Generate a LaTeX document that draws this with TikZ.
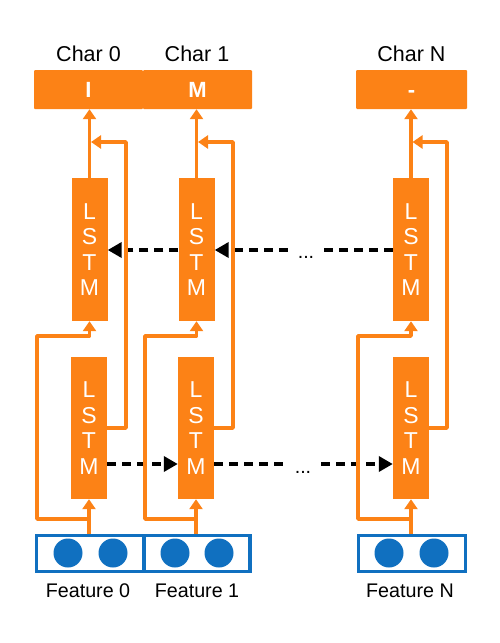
\documentclass[tikz,border=0pt]{standalone}
\usepackage{fontspec}
\setmainfont{Liberation Sans}
\usetikzlibrary{arrows.meta}
\definecolor{org}{RGB}{252,130,22}
\definecolor{blu}{RGB}{16,112,192}
\begin{document}
\begin{tikzpicture}[x=1pt,y=-1pt,
 lstm/.style={fill=org, draw=none, minimum width=36pt, minimum height=143pt, inner sep=0pt, text=white, font=\fontsize{23}{25.5}\selectfont, align=center},
 outbox/.style={fill=org, minimum height=39pt, inner sep=0pt, rounded corners=1pt, text=white, text height=16pt, text depth=0pt, font=\fontsize{22}{24}\selectfont\bfseries},
 featbox/.style={draw=blu, line width=3.2pt, fill=white, minimum height=36pt, inner sep=0pt},
 fdot/.style={circle, fill=blu, minimum size=29pt, inner sep=0pt},
 olink/.style={draw=org, line width=3.5pt, line join=round},
 oarrow/.style={olink, -{Triangle[length=10pt,width=13pt]}},
 dline/.style={draw=black, line width=3.5pt, dash pattern=on 9pt off 6pt},
 darrow/.style={dline, -{Triangle[length=14pt,width=15pt]}},
 clbl/.style={font=\fontsize{21.5}{24}\selectfont, anchor=base, inner sep=0pt},
 flbl/.style={font=\fontsize{19.7}{22}\selectfont, anchor=base, inner sep=0pt},
 dots/.style={font=\fontsize{19.7}{22}\selectfont, anchor=base, inner ysep=0pt, inner xsep=10pt},
]
\useasboundingbox (0,0) rectangle (500,643);

% output bar
\node[outbox, minimum width=109pt] (out0) at (88.5,89.5) {I};
\node[outbox, minimum width=109pt] (out1) at (197.5,89.5) {M};
\node[outbox, minimum width=111pt] (outN) at (411.5,89.5) {-};
\node[clbl] (c0) at (88.5,61) {Char 0};
\node[clbl] (c1) at (197,61) {Char 1};
\node[clbl] (cN) at (411.5,61) {Char N};

% LSTM cells
\node[lstm] (up0) at (89.5,249.5) {L\\S\\T\\M};
\node[lstm] (up1) at (196.5,249.5) {L\\S\\T\\M};
\node[lstm] (upN) at (411,249.5) {L\\S\\T\\M};
\node[lstm, minimum height=142pt] (lo0) at (89,428) {L\\S\\T\\M};
\node[lstm, minimum height=142pt] (lo1) at (196,428) {L\\S\\T\\M};
\node[lstm, minimum height=142pt] (loN) at (411,428) {L\\S\\T\\M};

% feature boxes
\node[featbox, minimum width=107pt] (f0) at (90,553.5) {};
\node[featbox, minimum width=106pt] (f1) at (197,553.5) {};
\node[featbox, minimum width=107pt] (fN) at (412,553.5) {};
\node[fdot] (d00) at (68,553) {};
\node[fdot] (d01) at (113,553) {};
\node[fdot] (d10) at (175,553) {};
\node[fdot] (d11) at (219,553) {};
\node[fdot] (dN0) at (389,553) {};
\node[fdot] (dN1) at (434,553) {};
\node[flbl] (fl0) at (88,597) {Feature 0};
\node[flbl] (fl1) at (197,597) {Feature 1};
\node[flbl] (flN) at (410,597) {Feature N};

% dashed recurrent connections
\coordinate (uy) at (0,250);
\coordinate (ly) at (0,464);
\node[dots] (du) at (306,258) {...};
\node[dots] (dl) at (303,473) {...};
\draw[darrow] (up1.west |- uy) -- (up0.east |- uy);
\draw[dline] (upN.west |- uy) -- (du.east |- uy);
\draw[darrow] (du.west |- uy) -- (up1.east |- uy);
\draw[darrow] (lo0.east |- ly) -- (lo1.west |- ly);
\draw[dline] (lo1.east |- ly) -- (dl.west |- ly);
\draw[darrow] (dl.east |- ly) -- (loN.west |- ly);

% orange connections
\coordinate (s0) at (89,519);
\coordinate (k0) at (37,336);
\coordinate (r0) at (126,142);
\coordinate (s1) at (196,519);
\coordinate (k1) at (145,336);
\coordinate (r1) at (233,142);
\coordinate (sN) at (411,519);
\coordinate (kN) at (358,336);
\coordinate (rN) at (447,142);

\draw[oarrow] (lo0.south |- f0.north) -- (lo0.south);
\draw[oarrow] (s0) -| (k0) -| (up0.south);
\draw[oarrow, shorten >=1.5pt] (lo0.east) -| (r0) -- (up0.north |- r0);
\draw[oarrow] (up0.north) -- (up0.north |- out0.south);

\draw[oarrow] (lo1.south |- f1.north) -- (lo1.south);
\draw[oarrow] (s1) -| (k1) -| (up1.south);
\draw[oarrow, shorten >=1.5pt] (lo1.east) -| (r1) -- (up1.north |- r1);
\draw[oarrow] (up1.north) -- (up1.north |- out1.south);

\draw[oarrow] (loN.south |- fN.north) -- (loN.south);
\draw[oarrow] (sN) -| (kN) -| (upN.south);
\draw[oarrow, shorten >=1.5pt] (loN.east) -| (rN) -- (upN.north |- rN);
\draw[oarrow] (upN.north) -- (upN.north |- outN.south);
\end{tikzpicture}
\end{document}
